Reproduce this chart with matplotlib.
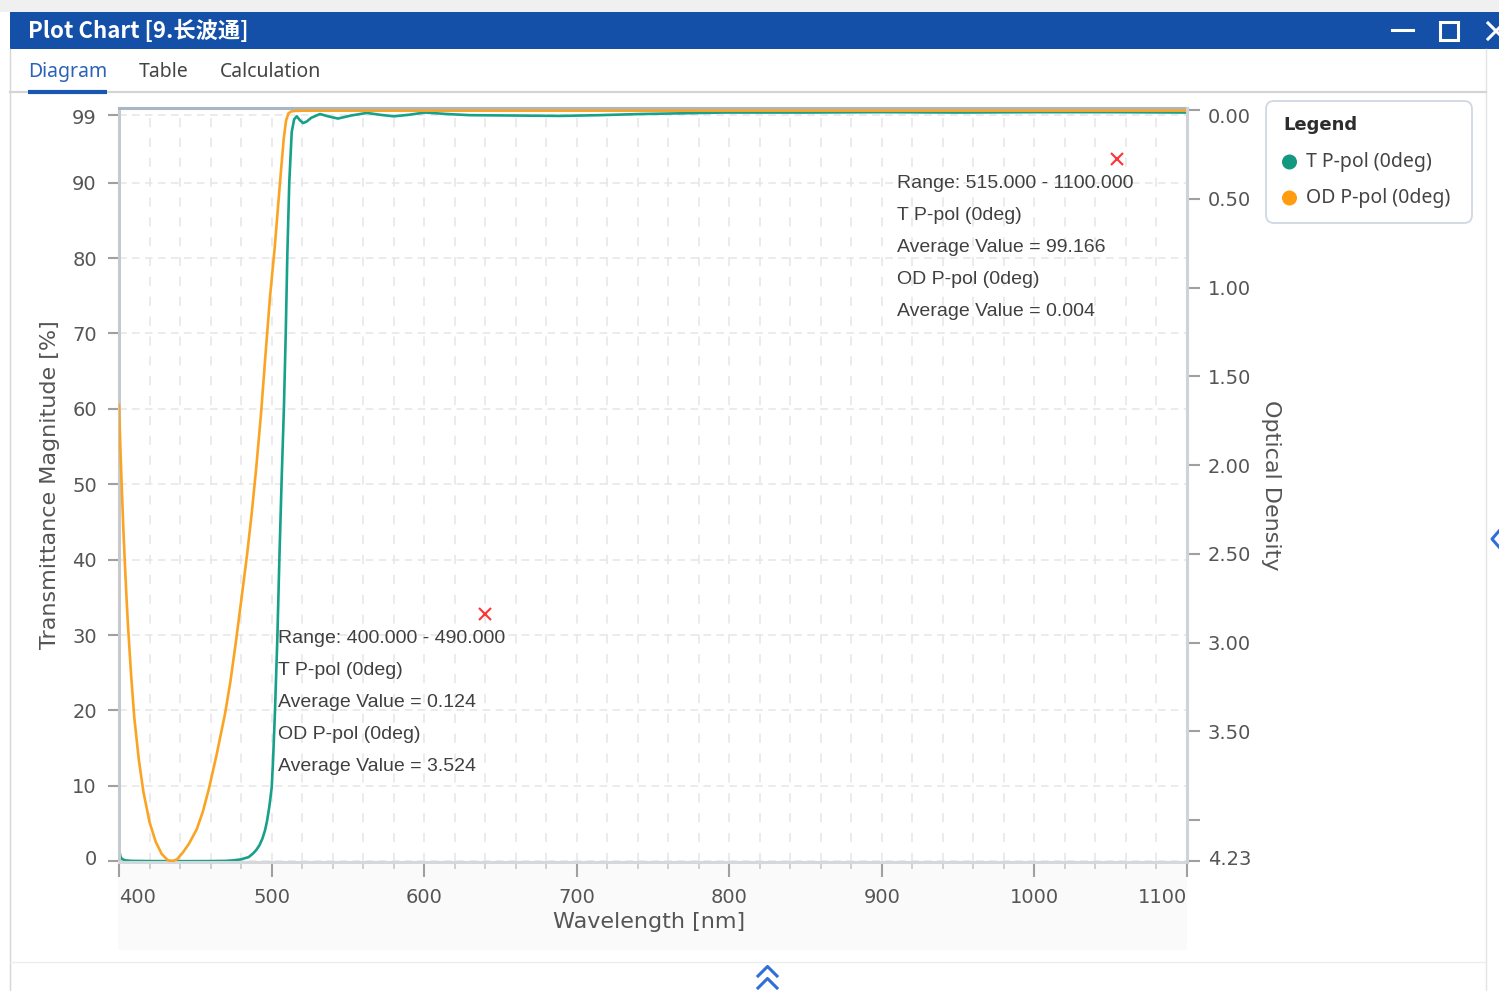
import matplotlib
matplotlib.use('Agg')
import matplotlib.pyplot as plt
import matplotlib.transforms as mtransforms
from matplotlib.patches import Rectangle, FancyBboxPatch, Circle
from matplotlib.ticker import FixedLocator, MultipleLocator

# ---- data ----
wavelength_t = [400, 400.5, 401, 402, 404, 408, 420, 440, 460, 470, 475, 480, 485, 488, 490,
                492, 494, 495.7, 497, 498.5, 500.1, 501, 502.2, 503.8, 505.1, 506.6, 508.1,
                509.3, 510.3, 511.6, 513.2, 514.8, 516.5, 518.5, 520.6, 523, 526, 531.7, 537,
                543.5, 552, 562.5, 571, 580.2, 590, 600.6, 615, 630, 660, 689, 715, 741.5,
                770, 795.9, 850, 900, 950, 1000, 1050, 1100]
t_ppol = [1.86, 1.1, 0.6, 0.3, 0.12, 0.05, 0.02, 0.01, 0.02, 0.05, 0.12, 0.25, 0.55, 1.06, 1.5,
          2.1, 3.0, 4.1, 5.3, 7.2, 9.8, 13.5, 19.7, 29.7, 40.0, 50.6, 60.2,
          70.1, 80.2, 90.0, 96.7, 98.4, 98.8, 98.3, 97.9, 98.1, 98.6, 99.1, 98.8,
          98.5, 98.9, 99.25, 99.0, 98.8, 99.0, 99.3, 99.1, 98.95, 98.9, 98.85, 98.95, 99.1,
          99.2, 99.3, 99.3, 99.35, 99.3, 99.35, 99.35, 99.3]

wavelength_od = [400, 401, 402, 403, 404, 405, 406, 408, 410, 413, 416, 420, 424, 428, 432,
                 435, 438, 442, 446, 451, 455, 459, 464, 469.5, 473, 476.7, 480, 484, 487,
                 490, 493, 496, 499, 502, 504, 506, 508, 509.5, 511, 513, 516, 520, 600, 700,
                 800, 900, 1000, 1100]
od_ppol = [1.66, 1.93, 2.17, 2.39, 2.58, 2.76, 2.92, 3.19, 3.42, 3.66, 3.84, 4.01, 4.12, 4.19,
           4.225, 4.23, 4.22, 4.18, 4.13, 4.05, 3.95, 3.82, 3.63, 3.40, 3.22, 2.99, 2.77, 2.50,
           2.27, 2.01, 1.72, 1.38, 1.05, 0.78, 0.57, 0.36, 0.16, 0.06, 0.02, 0.008, 0.005,
           0.004, 0.004, 0.004, 0.004, 0.004, 0.004, 0.004]

x_ticks = [400, 500, 600, 700, 800, 900, 1000, 1100]
t_ticks = [0, 10, 20, 30, 40, 50, 60, 70, 80, 90, 99]
od_ticks = [0, 0.5, 1.0, 1.5, 2.0, 2.5, 3.0, 3.5, 4.0, 4.23]
od_tick_labels = ['0.00', '0.50', '1.00', '1.50', '2.00', '2.50', '3.00', '3.50', '', '4.23']

series_names = ['T P-pol (0deg)', 'OD P-pol (0deg)']
calc_ranges = [(400.0, 490.0), (515.0, 1100.0)]
calc_avg_t = [0.124, 99.166]
calc_avg_od = [3.524, 0.004]
# where each calculation box sits (wavelength, T%) and its red marker
calc_text_at = [(504.2, 29.5), (909.9, 89.95)]
calc_marker_at = [(639.9, 32.8), (1054.1, 93.2)]

teal = '#17a08a'
orange = '#fba424'
blue = '#1450a8'

plt.rcParams['font.family'] = ['DejaVu Sans']

fig = plt.figure(figsize=(14.99, 9.91), dpi=100)
fig.patch.set_facecolor('white')

# window chrome drawn in pixel coords
bg = fig.add_axes([0, 0, 1, 1], zorder=0)
bg.set_xlim(0, 1499)
bg.set_ylim(991, 0)
bg.axis('off')
bg.add_patch(Rectangle((0, 0), 1499, 12, color='#f0f0f0', lw=0))
bg.add_patch(Rectangle((10, 12), 1489, 37, color=blue, lw=0))
bg.plot([10.5, 10.5], [49, 991], color='#d6d6d6', lw=1)
bg.plot([1486.5, 1486.5], [49, 991], color='#e4e4e4', lw=1)
bg.plot([10, 1486], [92, 92], color='#d4d4d4', lw=1.6)
bg.plot([28, 107], [92, 92], color='#1a56b4', lw=3, solid_capstyle='butt')
bg.plot([10, 1486], [962, 962], color='#ececec', lw=1)
bg.add_patch(Rectangle((118, 863), 1069, 87, color='#fafafa', lw=0))

title_font = ['Noto Sans CJK SC', 'DejaVu Sans']
bg.text(28, 31, 'Plot Chart [9.长波通]', color='white', fontsize=16, fontweight='bold',
        family=title_font, va='center', ha='left')
bg.plot([1392, 1413], [29.5, 29.5], color='white', lw=2.2)
bg.add_patch(Rectangle((1440, 22), 18, 18, fill=False, ec='white', lw=2.2))
bg.plot([1488, 1504], [23, 39], color='white', lw=2.2)
bg.plot([1488, 1504], [39, 23], color='white', lw=2.2)

tab_font = ['Noto Sans', 'DejaVu Sans']
bg.text(28, 72, 'Diagram', color='#2a62b8', fontsize=14, family=tab_font, va='center')
bg.text(139, 72, 'Table', color='#444444', fontsize=14, family=tab_font, va='center')
bg.text(220, 72, 'Calculation', color='#444444', fontsize=14, family=tab_font, va='center')

chev = '#2f6fd8'
bg.plot([758, 767.5, 777], [976, 966.5, 976], color=chev, lw=2.2)
bg.plot([758, 767.5, 777], [988, 978.5, 988], color=chev, lw=2.2)
bg.plot([1499, 1492, 1499], [531, 539, 547], color=chev, lw=2.2)

# legend box
bg.add_patch(FancyBboxPatch((1266, 101), 206, 122, boxstyle='round,pad=0,rounding_size=8',
                            fc='white', ec='#cfd8e2', lw=1.3))
bg.text(1283, 125, 'Legend', fontsize=13, fontweight='bold', color='#2d2d2d',
        family='DejaVu Sans', va='center')
for i, (name, col) in enumerate(zip(series_names, ['#13997f', '#ff9c0f'])):
    yy = 162 + 36 * i
    bg.add_patch(Circle((1289.5, yy), 7.5, color=col, lw=0))
    bg.text(1306, yy, name, fontsize=14, color='#444444', family=tab_font, va='center')

# ---- the chart ----
ax = fig.add_axes([119 / 1499, 129 / 991, 1068 / 1499, 754 / 991], zorder=2)
ax.set_facecolor('white')
ax2 = ax.twinx()
ax2.set_zorder(3)
ax2.patch.set_visible(False)

ax.plot(wavelength_t, t_ppol, color=teal, lw=1.9, solid_joinstyle='round')
ax2.plot(wavelength_od, od_ppol, color=orange, lw=1.9, solid_joinstyle='round')

ax.set_xlim(400, 1100)
ax.set_ylim(-0.1, 99.9)
ax2.set_ylim(4.235, -0.011)

ax.xaxis.set_major_locator(FixedLocator(x_ticks))
ax.xaxis.set_minor_locator(MultipleLocator(20))
ax.yaxis.set_major_locator(FixedLocator(t_ticks))
ax2.yaxis.set_major_locator(FixedLocator(od_ticks))
ax2.set_yticklabels(od_tick_labels)

lab_col = '#555555'
tick_col = '#a0a0a0'
ax.tick_params(axis='x', which='major', length=11, width=1.5, color=tick_col,
               labelsize=14, labelcolor=lab_col, pad=8)
ax.tick_params(axis='x', which='minor', length=5, width=1.2, color='#c8c8c8')
ax.tick_params(axis='y', which='major', length=8, width=1.5, color=tick_col,
               labelsize=14, labelcolor=lab_col, pad=8)
ax2.tick_params(axis='y', which='major', length=9, width=1.5, color=tick_col,
                labelsize=14, labelcolor=lab_col, pad=6)

xl = ax.get_xticklabels()
xl[0].set_ha('left')
xl[-1].set_ha('right')


def nudge(label, dy_px):
    label.set_transform(label.get_transform() +
                        mtransforms.ScaledTranslation(0, -dy_px / 100, fig.dpi_scale_trans))


yl = ax.get_yticklabels()
nudge(yl[0], -4)
nudge(yl[-1], 2)
rl = ax2.get_yticklabels()
nudge(rl[0], 6)
nudge(rl[-1], -4)

ax.grid(axis='x', which='both', color='#e6e6e6', lw=1.1, linestyle=(0, (6, 7)))
ax.grid(axis='y', which='major', color='#e6e6e6', lw=1.1, linestyle=(0, (5, 3.5)))
ax.set_axisbelow(True)

for s in ['left', 'bottom', 'top']:
    ax.spines[s].set_linewidth(2.2)
ax.spines['left'].set_color('#c6cacd')
ax.spines['bottom'].set_color('#d5d8db')
ax.spines['top'].set_color('#a8b6c5')
ax.spines['right'].set_visible(False)
for s in ['left', 'bottom', 'top']:
    ax2.spines[s].set_visible(False)
ax2.spines['right'].set_linewidth(2.2)
ax2.spines['right'].set_color('#d0d3d6')

ax.set_xlabel('Wavelength [nm]', fontsize=16, color=lab_col)
ax.set_ylabel('Transmittance Magnitude [%]', fontsize=16, color=lab_col)
ax2.set_ylabel('Optical Density', fontsize=16, color=lab_col, rotation=270)
ax.xaxis.set_label_coords(0.4965, -0.0796)
ax.xaxis.label.set_va('center')
ax.yaxis.set_label_coords(-0.0646, 0.5)
ax.yaxis.label.set_va('center')
ax2.yaxis.set_label_coords(1.0787, 0.5)
ax2.yaxis.label.set_va('center')

# calculation notes
note_font = ['Liberation Sans', 'DejaVu Sans']
for k in range(2):
    lo, hi = calc_ranges[k]
    lines = ['Range: %.3f - %.3f' % (lo, hi), series_names[0],
             'Average Value = %.3f' % calc_avg_t[k], series_names[1],
             'Average Value = %.3f' % calc_avg_od[k]]
    for i, line in enumerate(lines):
        ax2.annotate(line, xy=calc_text_at[k], xycoords=ax.transData,
                     xytext=(0, -23.04 * i), textcoords='offset points',
                     fontsize=14, color='#404040', family=note_font,
                     ha='left', va='center')
    ax2.plot(*calc_marker_at[k], marker='x', color='#ff3333', markersize=9, mew=1.5,
             transform=ax.transData)

fig.savefig('out.png', dpi=100)
